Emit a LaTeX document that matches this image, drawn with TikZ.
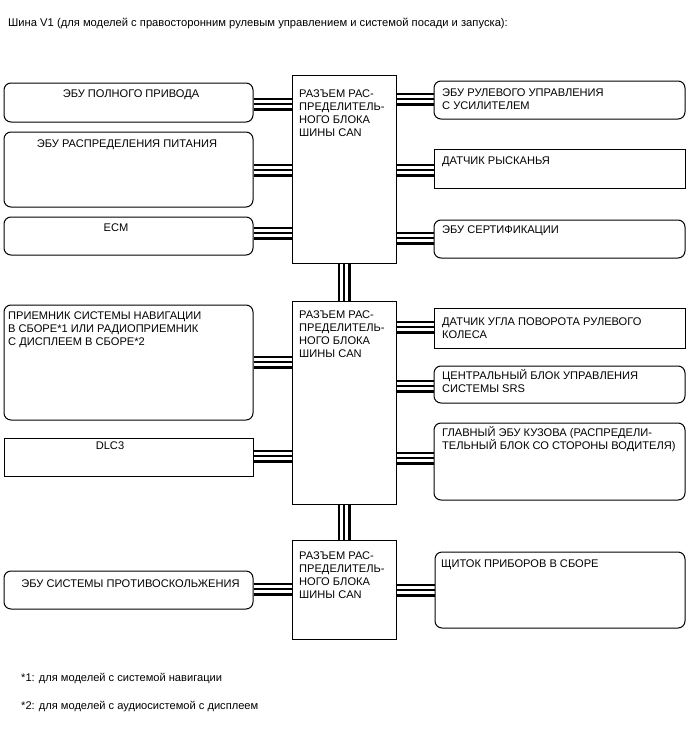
\documentclass[tikz,border=0pt]{standalone}
\usepackage{fontspec}
\setmainfont{Liberation Sans}
\usetikzlibrary{backgrounds}
\tikzset{
  box/.style={draw=black, line width=1pt, inner sep=0pt, rectangle},
  rbox/.style={box, rounded corners=7pt},
  txt/.style={inner sep=0pt, font=\fontsize{11.1}{13.3}\selectfont},
  bus/.style={draw=black, line width=13pt,
    postaction={draw=white, line width=7.6pt},
    postaction={draw=black, line width=1.4pt}},
}
\begin{document}
\begin{tikzpicture}[x=1pt, y=-1pt]
\useasboundingbox (0,0) rectangle (688,755);
% title
\node[txt, anchor=base west, font=\fontsize{11.2}{13.3}\selectfont] (title) at (8,26) {Шина V1 (для моделей с правосторонним рулевым управлением и системой посади и запуска):};
% left boxes
\node[rbox, minimum width=249pt, minimum height=39pt] (A) at (128.5,102.5) {};
\node[rbox, minimum width=249pt, minimum height=75pt] (B) at (128.5,169.5) {};
\node[rbox, minimum width=249pt, minimum height=38pt] (ECM) at (128.5,236) {};
\node[rbox, minimum width=249pt, minimum height=115pt] (NAV) at (128.5,362.5) {};
\node[box,  minimum width=249pt, minimum height=38pt] (DLC) at (128.5,457) {};
\node[rbox, minimum width=249pt, minimum height=38pt] (ABS) at (128.5,590) {};
% center boxes
\node[box, minimum width=104pt, minimum height=188pt] (C1) at (344,169) {};
\node[box, minimum width=104pt, minimum height=203pt] (C2) at (344,402.5) {};
\node[box, minimum width=104pt, minimum height=99pt] (C3) at (344,589.5) {};
% right boxes
\node[rbox, minimum width=251pt, minimum height=38pt] (R1) at (559.5,100) {};
\node[box,  minimum width=251pt, minimum height=39pt] (R2) at (559.5,168.5) {};
\node[rbox, minimum width=251pt, minimum height=38pt] (R3) at (559.5,239) {};
\node[box,  minimum width=251pt, minimum height=40pt] (R4) at (559.5,328) {};
\node[rbox, minimum width=251pt, minimum height=37pt] (R5) at (559.5,384.5) {};
\node[rbox, minimum width=251pt, minimum height=77pt] (R6) at (559.5,461.5) {};
\node[rbox, minimum width=250pt, minimum height=76pt] (R7) at (560,590) {};
% texts
\node[txt, anchor=base] (At) at (131,97) {ЭБУ ПОЛНОГО ПРИВОДА};
\node[txt, anchor=base] (Bt) at (127,147) {ЭБУ РАСПРЕДЕЛЕНИЯ ПИТАНИЯ};
\node[txt, anchor=base] (ECMt) at (116,231) {ECM};
\node[txt, anchor=base west] (NAVt) at (8,319) {\vtop{\hbox{ПРИЕМНИК СИСТЕМЫ НАВИГАЦИИ}\hbox{В СБОРЕ*1 ИЛИ РАДИОПРИЕМНИК}\hbox{С ДИСПЛЕЕМ В СБОРЕ*2}}};
\node[txt, anchor=base] (DLCt) at (110,449.5) {DLC3};
\node[txt, anchor=base] (ABSt) at (130.5,587) {ЭБУ СИСТЕМЫ ПРОТИВОСКОЛЬЖЕНИЯ};
\node[txt, anchor=base west] (C1t) at (299,97) {\vtop{\hbox{РАЗЪЕМ РАС-}\hbox{ПРЕДЕЛИТЕЛЬ-}\hbox{НОГО БЛОКА}\hbox{ШИНЫ CAN}}};
\node[txt, anchor=base west] (C2t) at (299,318) {\vtop{\hbox{РАЗЪЕМ РАС-}\hbox{ПРЕДЕЛИТЕЛЬ-}\hbox{НОГО БЛОКА}\hbox{ШИНЫ CAN}}};
\node[txt, anchor=base west] (C3t) at (299,559) {\vtop{\hbox{РАЗЪЕМ РАС-}\hbox{ПРЕДЕЛИТЕЛЬ-}\hbox{НОГО БЛОКА}\hbox{ШИНЫ CAN}}};
\node[txt, anchor=base west] (R1t) at (442,96) {\vtop{\hbox{ЭБУ РУЛЕВОГО УПРАВЛЕНИЯ}\hbox{С УСИЛИТЕЛЕМ}}};
\node[txt, anchor=base west] (R2t) at (442,164) {ДАТЧИК РЫСКАНЬЯ};
\node[txt, anchor=base west] (R3t) at (442,233) {ЭБУ СЕРТИФИКАЦИИ};
\node[txt, anchor=base west] (R4t) at (442,325.5) {\vtop{\hbox{ДАТЧИК УГЛА ПОВОРОТА РУЛЕВОГО}\hbox{КОЛЕСА}}};
\node[txt, anchor=base west] (R5t) at (442,379) {\vtop{\hbox{ЦЕНТРАЛЬНЫЙ БЛОК УПРАВЛЕНИЯ}\hbox{СИСТЕМЫ SRS}}};
\node[txt, anchor=base west] (R6t) at (442,436) {\vtop{\hbox{ГЛАВНЫЙ ЭБУ КУЗОВА (РАСПРЕДЕЛИ-}\hbox{ТЕЛЬНЫЙ БЛОК СО СТОРОНЫ ВОДИТЕЛЯ)}}};
\node[txt, anchor=base west] (R7t) at (441,567) {ЩИТОК ПРИБОРОВ В СБОРЕ};
% footnotes
\node[txt, anchor=base west] (fn1) at (21,681) {*1: для моделей с системой навигации};
\node[txt, anchor=base west] (fn2) at (21,709) {*2: для моделей с аудиосистемой с дисплеем};
% bus connectors
\begin{scope}[on background layer]
\draw[bus] (A.east |- 0,104) -- (C1.west |- 0,104);
\draw[bus] (B.east |- 0,170) -- (C1.west |- 0,170);
\draw[bus] (ECM.east |- 0,233) -- (C1.west |- 0,233);
\draw[bus] (C1.east |- 0,99) -- (R1.west |- 0,99);
\draw[bus] (C1.east |- 0,170) -- (R2.west |- 0,170);
\draw[bus] (C1.east |- 0,238) -- (R3.west |- 0,238);
\draw[bus] (NAV.east |- 0,362) -- (C2.west |- 0,362);
\draw[bus] (DLC.east |- 0,456) -- (C2.west |- 0,456);
\draw[bus] (C2.east |- 0,327) -- (R4.west |- 0,327);
\draw[bus] (C2.east |- 0,386) -- (R5.west |- 0,386);
\draw[bus] (C2.east |- 0,458) -- (R6.west |- 0,458);
\draw[bus] (ABS.east |- 0,589) -- (C3.west |- 0,589);
\draw[bus] (C3.east |- 0,590) -- (R7.west |- 0,590);
\draw[bus] (C1.south) -- (C2.north);
\draw[bus] (C2.south) -- (C3.north);
\end{scope}
\end{tikzpicture}
\end{document}
